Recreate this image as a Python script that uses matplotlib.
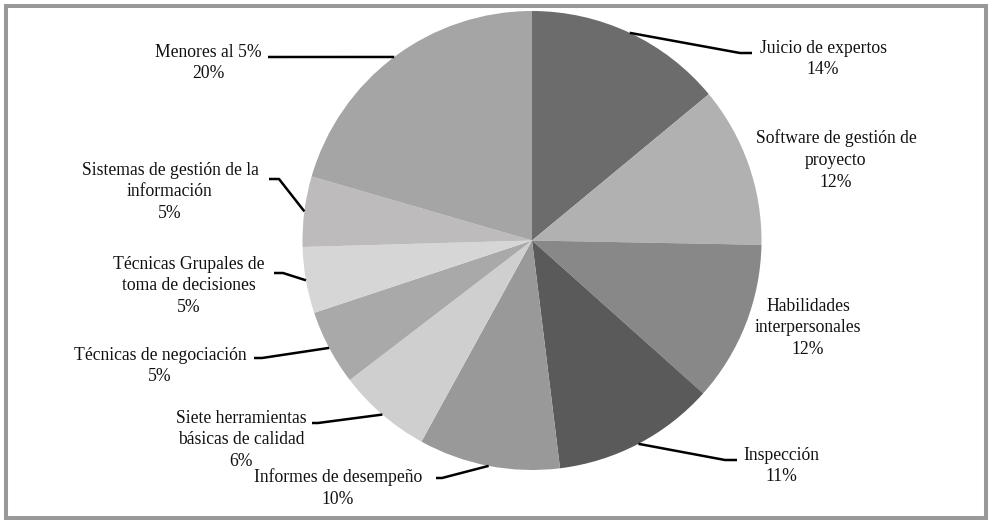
import numpy as np
import matplotlib.pyplot as plt
from matplotlib.patches import Rectangle

# data
labels = ["Juicio de expertos", "Software de gestión de\nproyecto", "Habilidades\ninterpersonales",
          "Inspección", "Informes de desempeño", "Siete herramientas\nbásicas de calidad",
          "Técnicas de negociación", "Técnicas Grupales de\ntoma de decisiones",
          "Sistemas de gestión de la\ninformación", "Menores al 5%"]
pct_labels = ["14%", "12%", "12%", "11%", "10%", "6%", "5%", "5%", "5%", "20%"]
# slice sizes as measured from the wedge angles
values = [14.0, 11.3, 11.3, 11.45, 9.95, 6.6, 5.3, 4.65, 4.95, 20.5]
colors = ["#6b6c6b", "#b0b1b0", "#888888", "#5a5a5a", "#999999",
          "#cfcfcf", "#a9a9a9", "#d6d6d6", "#bdbbbc", "#a5a5a5"]

# label layout (pixel coords from top-left), None = no leader line
text_pos = [(823, 59), (836, 160), (808, 328), (781, 466), (338, 488),
            (241, 440), (160, 366), (189, 286), (170, 192), (208, 63)]
elbow = [(740, 53), None, None, (725, 460), (442, 478),
         (318, 423), (262, 358), (283, 273), (279, 179), (268, 57)]
line_end = [(752, 53), None, None, (737, 460), (436, 478),
            (312, 423), (254, 358), (274, 273), (269, 179), (268, 57)]

W, H = 992, 526
cx, cy, r = 532, 240.5, 229.5

plt.rcParams['font.family'] = ['Liberation Serif', 'DejaVu Serif']
fig = plt.figure(figsize=(W / 100, H / 100), dpi=100)
ax = fig.add_axes([0, 0, 1, 1])

wedges, _ = ax.pie(values, colors=colors, startangle=90, counterclock=False,
                   center=(cx, H - cy), radius=r, frame=True)
ax.set_xlim(0, W)
ax.set_ylim(0, H)
ax.set_aspect('equal')
ax.axis('off')

for w, lab, pl, tp, el, le in zip(wedges, labels, pct_labels, text_pos, elbow, line_end):
    ax.text(tp[0], H - tp[1], lab + "\n" + pl, ha='center', va='center',
            fontsize=12.7, linespacing=1.36, color='#111111')
    if el is None:
        continue
    mid = np.deg2rad((w.theta1 + w.theta2) / 2)
    px = cx + r * np.cos(mid)
    py = (H - cy) + r * np.sin(mid)
    ax.plot([px, el[0], le[0]], [py, H - el[1], H - le[1]], color='black', lw=1.8,
            solid_capstyle='butt')

ax.add_patch(Rectangle((6, H - 517.5), 979.5, 511.5, fill=False, edgecolor='#999999', lw=2.9))

fig.savefig("out.png", dpi=100)
